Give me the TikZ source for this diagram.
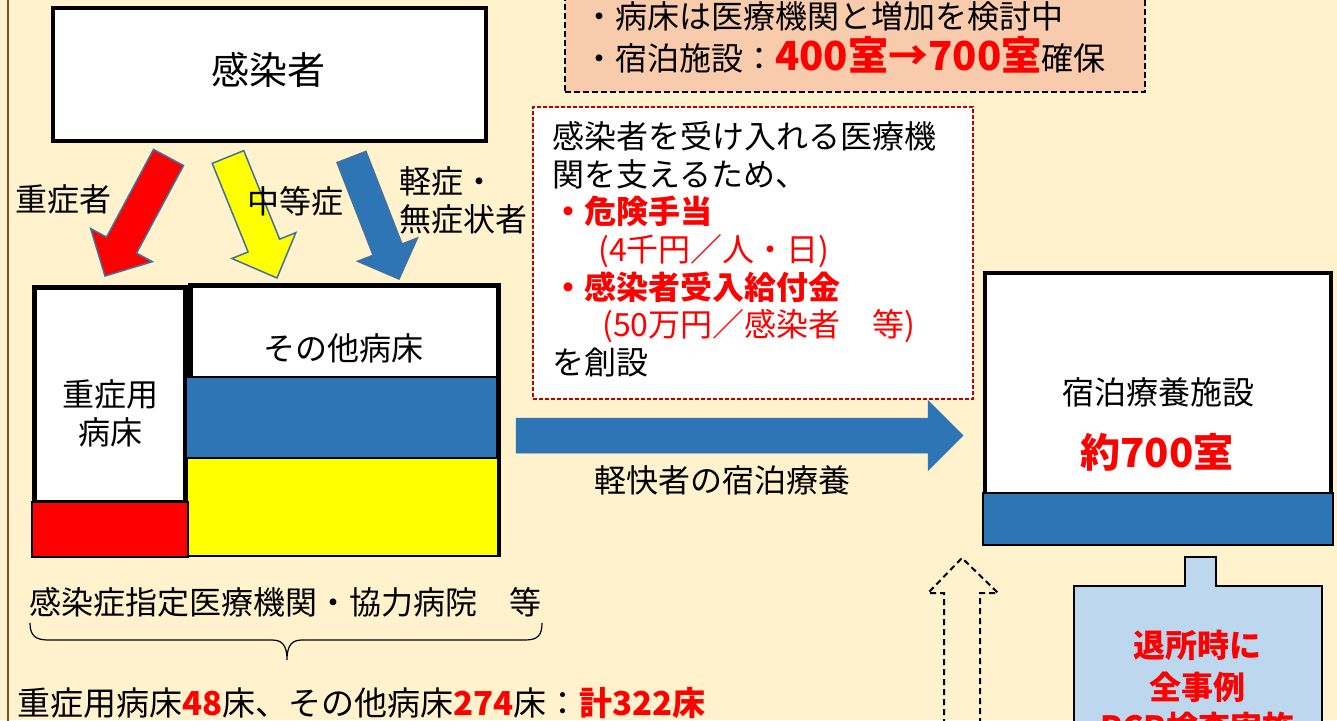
\documentclass[tikz,border=0pt]{standalone}
\usepackage{fontspec}
\setmainfont{Noto Sans CJK JP}
\usetikzlibrary{calc}
\definecolor{bg}{HTML}{FFF2CC}
\definecolor{brownline}{HTML}{8F4A1C}
\definecolor{mblue}{HTML}{2E75B6}
\definecolor{aoutline}{HTML}{41719C}
\definecolor{peach}{HTML}{F8CBAD}
\definecolor{lblue}{HTML}{BDD7EE}
\definecolor{dred}{HTML}{C00000}
\definecolor{rred}{HTML}{FF0000}
\definecolor{yy}{HTML}{FFFF00}
\newcommand\blockarrow[6]{%
  \coordinate (ba-base) at ($(#3)!#6!(#2)$);
  \draw[#1] ($(#2)!#4!90:(#3)$) -- ($(ba-base)!#4!90:(#3)$) -- ($(ba-base)!#5!90:(#3)$) -- (#3)
    -- ($(ba-base)!#5!-90:(#3)$) -- ($(ba-base)!#4!-90:(#3)$) -- ($(#2)!#4!-90:(#3)$) -- cycle;}
\newcommand\redb[1]{{\color{rred}\bfseries #1}}
\newcommand\redn[1]{{\color{rred}#1}}
\begin{document}
\begin{tikzpicture}[x=1pt,y=-1pt,
  txt/.style={font=\fontsize{32}{38}\selectfont, inner sep=0pt, anchor=base},
  ltxt/.style={font=\fontsize{32}{38}\selectfont, inner sep=0pt, anchor=base west},
  bigtxt/.style={font=\fontsize{38}{44}\selectfont, inner sep=0pt, anchor=base},
  thickbox/.style={draw=black, fill=white, inner sep=0pt, outer sep=0pt},
  thinbox/.style={draw=black, line width=1.2pt, inner sep=0pt, outer sep=0pt},
  slant/.style={draw=aoutline, line width=1.5pt, line join=miter},
  dasharrow/.style={draw=black, line width=2pt, dash pattern=on 6pt off 4pt},
]
\clip (0,0) rectangle (1337,720);
\fill[bg] (0,0) rectangle (1337,720);
\draw[brownline, line width=2pt] (7.5,-5) -- (7.5,725);

% top infected box
\node[thickbox, line width=4.5pt, minimum width=433pt, minimum height=133pt] (kbox) at (269.5,74.5) {};
\node[bigtxt] (ktext) at (268,84.5) {感染者};

% slanted arrows
\coordinate (rT) at (168.5,157.5); \coordinate (rP) at (105,276);
\coordinate (yT) at (228,157);     \coordinate (yP) at (277,278);
\coordinate (bT) at (351.5,157);   \coordinate (bP) at (399,279);
\blockarrow{slant, fill=rred}{rT}{rP}{17pt}{35pt}{35pt}
\blockarrow{slant, fill=yy}{yT}{yP}{17pt}{34.5pt}{35pt}
\blockarrow{slant, fill=mblue}{bT}{bP}{15.5pt}{32pt}{31.5pt}

\node[txt] (lsev) at (64,211.5) {重症者};
\node[txt] (lmod) at (295.5,213.5) {中等症};
\node[ltxt] (lmild1) at (399,193.5) {軽症・};
\node[ltxt] (lmild2) at (399,231) {無症状者};

% bed boxes
\node[thickbox, line width=5pt, minimum width=150.5pt, minimum height=214.5pt] (lbed) at (109.75,394.75) {};
\node[thickbox, line width=5pt, minimum width=308pt, minimum height=268.5pt] (obed) at (344.5,419.75) {};
\node[thinbox, fill=mblue, minimum width=311pt, minimum height=81pt] (obblue) at (341.5,417.5) {};
\node[thinbox, fill=yy, minimum width=311pt, minimum height=98pt] (obyel) at (342.5,507) {};
\node[thinbox, fill=rred, minimum width=156pt, minimum height=55pt] (lbred) at (110,529.5) {};
\node[txt] (lbedt1) at (110,406) {重症用};
\node[txt] (lbedt2) at (110,444) {病床};
\node[txt] (obedt) at (343.5,360) {その他病床};

% hospitals text and brace
\node[ltxt] (hosp) at (29,614) {感染症指定医療機関・協力病院　等};
\coordinate (brL) at (30,623); \coordinate (brM) at (287,660); \coordinate (brR) at (542,623);
\draw[line width=1.2pt] (brL) .. controls (30,635) and (35,640) .. (48,640) -- (272,640)
  .. controls (282,640) and (287,645) .. (brM) .. controls (287,645) and (292,640) .. (302,640)
  -- (525,640) .. controls (538,640) and (542,635) .. (brR);
\node[ltxt, font=\fontsize{33}{38}\selectfont] (total) at (17,715) {重症用病床\redb{48}床、その他病床\redb{274}床：\redb{計322床}};

% peach box
\node[draw=black, fill=peach, line width=2pt, dash pattern=on 6pt off 3pt, inner sep=0pt,
  minimum width=580pt, minimum height=112pt] (peachbox) at (855,36) {};
\node[ltxt] (p1) at (583,28) {・病床は医療機関と増加を検討中};
\node[ltxt] (p2) at (583,70) {・宿泊施設：{\fontsize{40}{44}\selectfont\redb{400室→700室}}確保};

% red dashed box
\node[draw=dred, fill=white, line width=1.5pt, dash pattern=on 4pt off 2pt, inner sep=0pt,
  minimum width=440pt, minimum height=292pt] (supbox) at (753,253) {};
\node[ltxt] (s1) at (552,148) {感染者を受け入れる医療機};
\node[ltxt] (s2) at (552,186) {関を支えるため、};
\node[ltxt] (s3) at (552,223) {\redb{・危険手当}};
\node[ltxt] (s4) at (598,261) {\redn{(4千円／人・日)}};
\node[ltxt] (s5) at (552,299) {\redb{・感染者受入給付金}};
\node[ltxt] (s6) at (602,336) {\redn{(50万円／感染者　等)}};
\node[ltxt] (s7) at (552,374) {を創設};

% big horizontal arrow
\coordinate (hT) at (516,435.5); \coordinate (hP) at (963,435.5);
\blockarrow{fill=mblue, draw=mblue, line width=0.5pt}{hT}{hP}{17.5pt}{35pt}{35pt}
\node[txt] (htxt) at (722,492) {軽快者の宿泊療養};

% facility box
\node[thickbox, line width=4.5pt, minimum width=346pt, minimum height=222pt] (fac) at (1158,384) {};
\node[thinbox, fill=mblue, minimum width=350pt, minimum height=52pt] (facbar) at (1158,519) {};
\node[txt] (fact1) at (1158,404) {宿泊療養施設};
\node[txt, font=\fontsize{40}{44}\selectfont] (fact2) at (1157,467) {\redb{約700室}};

% dashed up arrow
\draw[dasharrow] (944,745) -- (944,593) -- (928,593) -- (962,558) -- (998,593) -- (980,593) -- (980,745);

% light blue box
\filldraw[fill=lblue, draw=black, line width=2.5pt] (1074,745) -- (1074,586) -- (1185,586) -- (1185,557)
  -- (1216,557) -- (1216,586) -- (1322,586) -- (1322,745) -- cycle;
\node[txt] (pcr1) at (1197,657.5) {\redb{退所時に}};
\node[txt] (pcr2) at (1197,699) {\redb{全事例}};
\node[txt] (pcr3) at (1197,739) {\redb{PCR検査実施}};
\end{tikzpicture}
\end{document}
